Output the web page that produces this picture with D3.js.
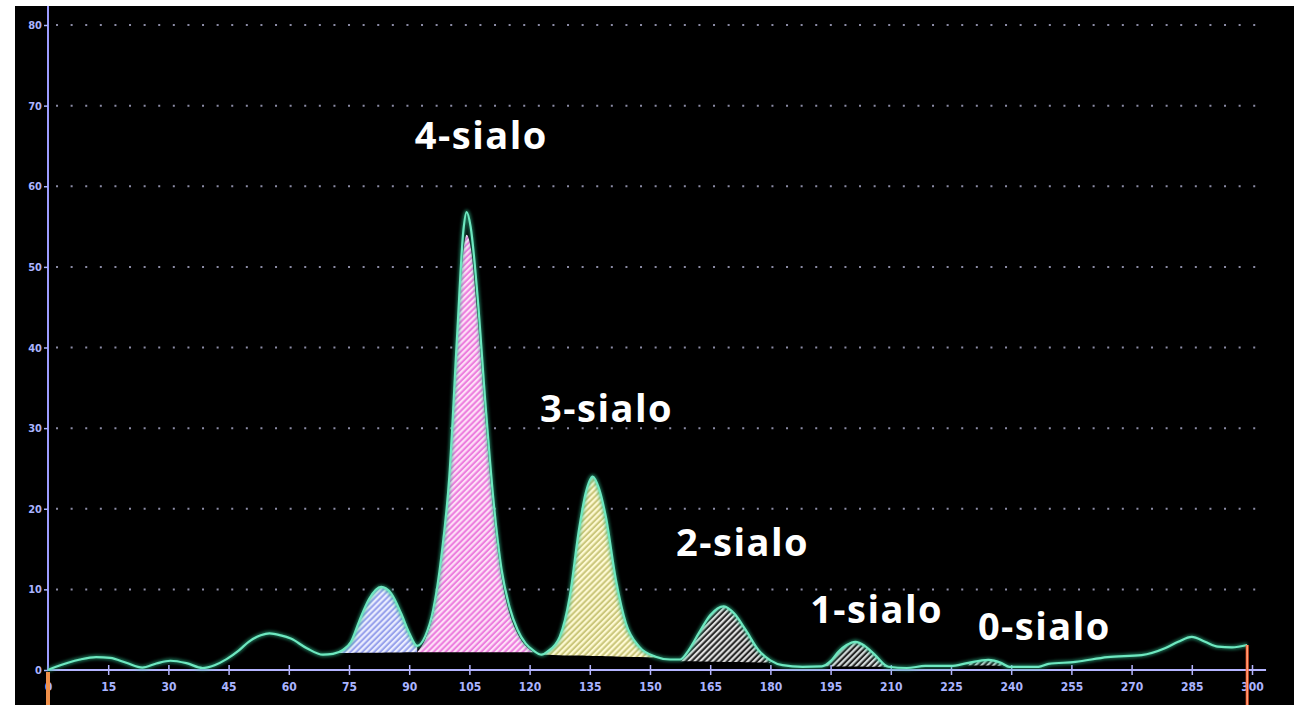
<!DOCTYPE html>
<html>
<head>
<meta charset="utf-8">
<script src="https://cdn.jsdelivr.net/npm/d3@7"></script>
<style>
body { margin: 0; background: #fff; }
svg { display: block; }
</style>
</head>
<body>
<svg id="chart"></svg>
<script>
// electropherogram trace (time, signal)
const traceTime = [0, 2, 5, 8, 12, 15.5, 19.5, 23.5, 27, 30.5, 34.5, 38.5, 41.5, 44.5, 47.5, 50, 53, 55.2, 58, 60.5,
    64.5, 68.5, 71, 73.5, 75.5, 77.5, 80, 83, 85.5, 88, 90, 92, 94, 96, 98, 100, 102, 103.5, 104.3, 105.3,
    107, 109, 111, 113, 115, 117, 119, 121, 123, 124.5, 127.5, 130, 132.3, 134, 135.7, 137.3, 139, 141.5, 144, 147.3,
    151.4, 155, 157.5, 159.7, 162.2, 165, 168.4, 171, 173.8, 177, 180, 183, 188, 192.8, 195, 197, 199, 201.2, 203.5, 206,
    209.4, 214, 218.6, 225, 229, 234.3, 237.6, 239.5, 246.8, 249.3, 256, 264, 272.5, 278.3, 281.6, 285, 288.3, 291.5, 295, 298.8];
const traceSignal = [0, 0.4, 0.9, 1.3, 1.6, 1.5, 0.9, 0.3, 0.8, 1.15, 0.85, 0.25, 0.6, 1.35, 2.4, 3.5, 4.3, 4.55, 4.3, 3.9,
    2.7, 1.9, 2.0, 2.5, 3.5, 6.0, 8.8, 10.3, 9.5, 7.0, 4.6, 3.0, 4.2, 7.5, 14, 24, 42, 54.5, 56.8, 55,
    46.5, 33, 21, 12.5, 7.8, 5, 3.3, 2.4, 1.9, 2.3, 4.1, 9.1, 17.4, 22, 24, 22.5, 19, 11.2, 5.8, 2.9,
    1.65, 1.3, 1.3, 2.5, 4.6, 6.8, 7.9, 7.0, 5.0, 2.5, 1.2, 0.6, 0.4, 0.45, 1.1, 2.3, 3.1, 3.5, 3.0, 1.9,
    0.4, 0.25, 0.5, 0.5, 0.85, 1.25, 0.85, 0.4, 0.4, 0.75, 1.0, 1.6, 1.85, 2.7, 3.5, 4.1, 3.5, 2.9, 2.8, 3.1];

// fitted 4-sialo peak (sits a little inside the trace)
const fitTime = [92, 94, 96, 98, 100, 102, 103.5, 104.3, 105.3, 107, 109, 111, 113, 115, 117, 119, 121];
const fitSignal = [2.2, 3.8, 7, 13.5, 23.5, 41, 52, 54, 52.5, 44, 31, 19.5, 11.5, 7, 4.5, 3.0, 2.2];

// integrated peaks
const peakNames = ["", "4-sialo", "3-sialo", "2-sialo", "1-sialo", "0-sialo"];
const peakStart = [72, 92, 123, 157.5, 192.8, 229];
const peakEnd = [92, 121, 151.4, 180, 209.4, 239.5];
const baseStart = [2.1, 2.2, 1.9, 1.1, 0.45, 0.6];
const baseEnd = [2.2, 2.2, 1.55, 0.9, 0.4, 0.5];

const xTickValues = [0, 15, 30, 45, 60, 75, 90, 105, 120, 135, 150, 165, 180, 195, 210, 225, 240, 255, 270, 285, 300];
const yTickValues = [0, 10, 20, 30, 40, 50, 60, 70, 80];
const endTime = 298.8;

const width = 1294,
    height = 705;

// label anchors in data units (left edge, baseline)
const labelPos = [null, [91.4, 64.6], [122.6, 30.8], [156.5, 14.2], [189.9, 5.8], [231.7, 3.7]];

const hatches = [
    { id: "h0", base: "#98a2ec", stripe: "#eef0ff" },
    { id: "h1", base: "#ec7ede", stripe: "#ffe2f8" },
    { id: "h2", base: "#cbc77c", stripe: "#fffbd6" },
    { id: "h3", base: "#262626", stripe: "#e4e4e4" },
    { id: "h4", base: "#262626", stripe: "#dce2e2" },
    { id: "h5", base: "#1c1c1c", stripe: "#c4cccc" }
];

const x = d3.scaleLinear().domain([0, 300]).range([48, 1252]);
const y = d3.scaleLinear().domain([0, 80]).range([670, 25]);

const svg = d3.select("#chart").attr("width", width).attr("height", height);

svg.append("rect").attr("width", width).attr("height", height).attr("fill", "#fff");
svg.append("rect")
    .attr("x", 15)
    .attr("y", 6)
    .attr("width", width - 15)
    .attr("height", height - 6)
    .attr("fill", "#000");

const defs = svg.append("defs");
const glow = defs.append("filter").attr("id", "glow").attr("x", "-5%").attr("y", "-5%").attr("width", "110%").attr("height", "110%");
glow.append("feGaussianBlur").attr("stdDeviation", 1.6);

hatches.forEach(h => {
    const p = defs.append("pattern")
        .attr("id", h.id)
        .attr("patternUnits", "userSpaceOnUse")
        .attr("width", 4.2)
        .attr("height", 4.2)
        .attr("patternTransform", "rotate(45)");
    p.append("rect").attr("width", 4.2).attr("height", 4.2).attr("fill", h.base);
    p.append("line")
        .attr("x1", 1.1).attr("x2", 1.1)
        .attr("y1", 0).attr("y2", 4.2)
        .attr("stroke", h.stripe)
        .attr("stroke-width", 2.1);
});

// dotted grid
svg.append("g")
    .selectAll("line")
    .data(yTickValues.slice(1))
    .enter()
    .append("line")
    .attr("x1", x(2))
    .attr("x2", x(302))
    .attr("y1", d => y(d))
    .attr("y2", d => y(d))
    .attr("stroke", "#8c8ca6")
    .attr("stroke-width", 2)
    .attr("stroke-dasharray", "2 12.6");

const trace = traceTime.map((t, i) => [t, traceSignal[i]]);
const fit = fitTime.map((t, i) => [t, fitSignal[i]]);

// hatched peak areas
peakStart.forEach((s, i) => {
    const e = peakEnd[i];
    const base = d3.scaleLinear().domain([s, e]).range([baseStart[i], baseEnd[i]]);
    defs.append("clipPath")
        .attr("id", "clip" + i)
        .append("rect")
        .attr("x", x(s))
        .attr("y", 0)
        .attr("width", x(e) - x(s))
        .attr("height", height);
    const area = d3.area()
        .x(d => x(d[0]))
        .y0(d => y(base(d[0])))
        .y1(d => y(Math.max(d[1], base(d[0]))))
        .curve(d3.curveMonotoneX);
    svg.append("path")
        .datum(i == 1 ? fit : trace)
        .attr("clip-path", "url(#clip" + i + ")")
        .attr("fill", "url(#" + hatches[i].id + ")")
        .attr("d", area);
});

const line = d3.line()
    .x(d => x(d[0]))
    .y(d => y(d[1]))
    .curve(d3.curveMonotoneX);

// axes
svg.append("line")
    .attr("x1", x(0)).attr("x2", x(0))
    .attr("y1", 6).attr("y2", y(0))
    .attr("stroke", "#4040c8").attr("stroke-width", 5).attr("opacity", 0.6).attr("filter", "url(#glow)");
svg.append("line")
    .attr("x1", x(0)).attr("x2", x(0))
    .attr("y1", 6).attr("y2", y(0))
    .attr("stroke", "#9c9cff").attr("stroke-width", 2);
svg.append("line")
    .attr("x1", x(0)).attr("x2", x(303.5))
    .attr("y1", y(0)).attr("y2", y(0))
    .attr("stroke", "#4040c8").attr("stroke-width", 6).attr("opacity", 0.7).attr("filter", "url(#glow)");
svg.append("line")
    .attr("x1", x(0)).attr("x2", x(303.5))
    .attr("y1", y(0)).attr("y2", y(0))
    .attr("stroke", "#b4b4ff").attr("stroke-width", 2);

const xAxis = svg.append("g")
    .attr("transform", "translate(0," + y(0) + ")")
    .call(d3.axisBottom(x).tickValues(xTickValues).tickSize(5).tickPadding(7));
xAxis.select(".domain").remove();
xAxis.selectAll(".tick line").attr("y1", -5).attr("stroke", "#b4b4ff").attr("stroke-width", 1.5);
xAxis.selectAll(".tick").filter(d => d == 0).select("line").remove();
xAxis.selectAll("text")
    .attr("fill", "#aab4ff")
    .style("font", "bold 12px 'DejaVu Sans Condensed', 'DejaVu Sans', sans-serif");

const yAxis = svg.append("g")
    .attr("transform", "translate(" + x(0) + ",0)")
    .call(d3.axisLeft(y).tickValues(yTickValues).tickSize(4).tickPadding(2));
yAxis.select(".domain").remove();
yAxis.selectAll(".tick line").attr("stroke", "#aab4ff").attr("stroke-width", 1.5);
yAxis.selectAll("text")
    .attr("fill", "#aab4ff")
    .style("font", "bold 11px 'DejaVu Sans Condensed', 'DejaVu Sans', sans-serif");

// trace with a soft glow
svg.append("path")
    .datum(trace)
    .attr("fill", "none")
    .attr("stroke", "#2fb88c")
    .attr("stroke-width", 5)
    .attr("opacity", 0.55)
    .attr("filter", "url(#glow)")
    .attr("d", line);
svg.append("path")
    .datum(trace)
    .attr("fill", "none")
    .attr("stroke", "#6ee8c0")
    .attr("stroke-width", 2.2)
    .attr("d", line);

// start / end markers
svg.append("line")
    .attr("x1", x(0)).attr("x2", x(0))
    .attr("y1", y(0) + 2).attr("y2", height)
    .attr("stroke", "#f0904a").attr("stroke-width", 4);
svg.append("line")
    .attr("x1", x(endTime)).attr("x2", x(endTime))
    .attr("y1", y(traceSignal[traceSignal.length - 1])).attr("y2", height)
    .attr("stroke", "#ff5a2a").attr("stroke-width", 3);
svg.append("line")
    .attr("x1", x(endTime)).attr("x2", x(endTime))
    .attr("y1", y(traceSignal[traceSignal.length - 1])).attr("y2", height)
    .attr("stroke", "#ffc0a0").attr("stroke-width", 1);

// peak labels
svg.append("g")
    .selectAll("text")
    .data(peakNames.map((n, i) => ({ name: n, pos: labelPos[i] })).filter(d => d.name))
    .enter()
    .append("text")
    .attr("x", d => x(d.pos[0]))
    .attr("y", d => y(d.pos[1]))
    .attr("fill", "#fff")
    .style("font-family", "'Open Sans', sans-serif")
    .style("font-weight", 700)
    .style("font-size", "38px")
    .style("letter-spacing", "1.5px")
    .text(d => d.name);
</script>
</body>
</html>
